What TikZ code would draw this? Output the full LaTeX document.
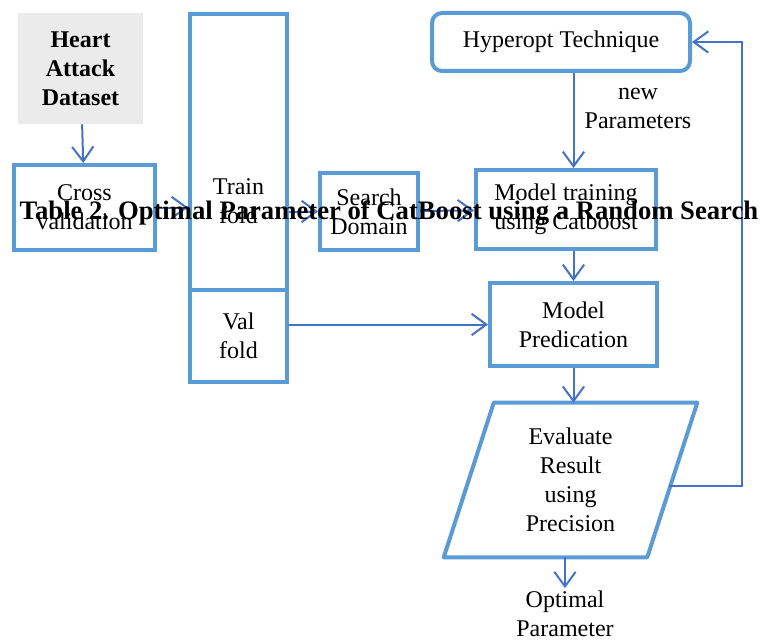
\documentclass[tikz,border=0pt]{standalone}
\usepackage{fontspec}
\setmainfont{Liberation Serif}
\usepackage{tikz}
\usetikzlibrary{arrows.meta,positioning,calc}

\definecolor{boxblue}{RGB}{91,155,213}
\definecolor{arrowblue}{RGB}{68,114,196}
\definecolor{datagray}{RGB}{235,235,235}

\begin{document}
\begin{tikzpicture}[x=0.75pt,y=-0.75pt,
  box/.style={rectangle, draw=boxblue, line width=3pt, align=center, inner sep=0pt, font=\fontsize{18}{21.75}\selectfont},
  txt/.style={align=center, inner sep=2pt, font=\fontsize{18}{21.75}\selectfont},
  arrow/.style={-{Straight Barb[length=11pt,width=16pt,line width=1.5pt]}, draw=arrowblue, line width=1.5pt}
]
\useasboundingbox (0,0) rectangle (760,642);

% left column
\node[rectangle, fill=datagray, minimum width=93.75pt, minimum height=83.25pt, align=center,
  font=\fontsize{18}{21.75}\selectfont\bfseries] (data) at (80.5,68.5) {Heart\\Attack\\Dataset};
\node[box, minimum width=105.75pt, minimum height=63.75pt] (cv) at (84.5,207.5) {Cross\\validation};

% folds
\node[box, minimum width=72.75pt, minimum height=207pt] (train) at (238.5,152) {};
\node[txt] (traintxt) at (238.5,201) {Train\\fold};
\node[box, minimum width=72.75pt, minimum height=69pt] (val) at (238.5,336) {Val\\fold};

% search and model
\node[box, minimum width=73.5pt, minimum height=57.75pt] (search) at (369,211.5) {Search\\Domain};
\node[box, minimum width=135pt, minimum height=59.25pt] (mt) at (566,209.5) {Model training\\using Catboost};
\node[box, rounded corners=7.5pt, minimum width=193.5pt, minimum height=43.5pt] (hyp) at (561,42) {Hyperopt Technique};
\node[txt] (newp) at (638,108) {new\\Parameters};
\node[box, minimum width=125.25pt, minimum height=62.25pt] (pred) at (573.5,324.5) {Model\\Predication};

% evaluate (parallelogram)
\node[txt, minimum width=152.25pt, minimum height=115.5pt, inner sep=0pt] (eval) at (570.5,480) {Evaluate\\Result\\using\\Precision};
\draw[boxblue, line width=3pt, line join=round]
  ($(eval.north west)+(25,0)$) -- ($(eval.north east)+(25,0)$) --
  ($(eval.south east)+(-25,0)$) -- ($(eval.south west)+(-25,0)$) -- cycle;
\coordinate (fb) at (669,486);
\node[txt] (opt) at (565,614) {Optimal\\Parameter};

% arrows
\draw[arrow] (data) -- (cv);
\draw[arrow] (cv.east) -- (cv.east -| train.west);
\draw[arrow] (search.west -| train.east) -- (search.west);
\draw[arrow] (search) -- (mt);
\draw[arrow] (hyp.south -| pred) -- (mt.north -| pred);
\draw[arrow] (mt.south -| pred) -- (pred.north);
\draw[arrow] (pred.west -| val.east) -- (pred.west);
\draw[arrow] (pred.south) -- (pred.south |- eval.north);
\draw[arrow] (opt.north |- eval.south) -- (opt.north);
\draw[arrow] (fb) -- ++(73,0) |- (hyp.east);

% caption
\node[font=\fontsize{20}{24}\selectfont\bfseries, inner sep=0pt] (cap) at (389,213)
  {Table 2. Optimal Parameter of CatBoost using a Random Search};

\end{tikzpicture}
\end{document}
